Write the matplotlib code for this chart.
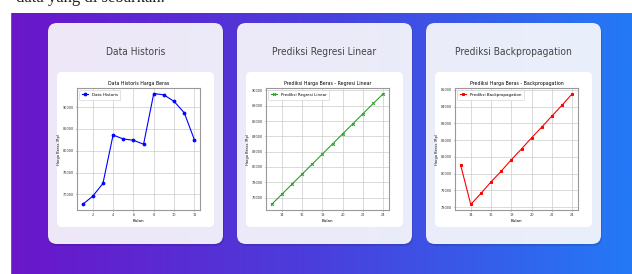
import numpy as np
import matplotlib
matplotlib.use('Agg')
import matplotlib.pyplot as plt
from matplotlib.patches import FancyBboxPatch
from matplotlib.colors import LinearSegmentedColormap
from matplotlib import font_manager

# data
bulan_hist = [1, 2, 3, 4, 5, 6, 7, 8, 9, 10, 11, 12]
harga_hist = [67700, 69600, 72500, 83600, 82700, 82400, 81500, 93100, 92800, 91300, 88700, 82500]

bulan_pred = [13, 14, 15, 16, 17, 18, 19, 20, 21, 22, 23, 24]
harga_linear = [75100, 76420, 77740, 79060, 80380, 81700, 83020, 84340, 85660, 86980, 88300, 89600]
harga_bp = [80520, 78160, 78820, 79510, 80150, 80840, 81480, 82150, 82790, 83450, 84100, 84780]

card_titles = ['Data Historis', 'Prediksi Regresi Linear', 'Prediksi Backpropagation']
chart_titles = ['Data Historis Harga Beras', 'Prediksi Harga Beras - Regresi Linear',
                'Prediksi Harga Beras - Backpropagation']
legend_labels = ['Data Historis', 'Prediksi Regresi Linear', 'Prediksi Backpropagation']

# look for a condensed face for the card titles
title_font = None
for pref in ['Roboto', 'Noto Sans', 'Open Sans', 'DejaVu Sans', 'Liberation Sans']:
    for f in font_manager.fontManager.ttflist:
        if f.name == pref and 'condensed' in str(f.stretch) and f.style == 'normal' \
                and f.weight in (400, 'normal', 'regular') and 'semi' not in str(f.stretch) \
                and 'extra' not in str(f.stretch):
            title_font = f.fname
            break
    if title_font:
        break
if title_font is None:
    for f in font_manager.fontManager.ttflist:
        if ('Condensed' in f.name or 'Narrow' in f.name) and f.style == 'normal':
            title_font = f.fname
            break

W, H = 632, 274
fig = plt.figure(figsize=(W / 100, H / 100), dpi=100)

def frac(x, y, w, h):
    # pixel box (top-left origin) -> figure fraction
    return [x / W, 1 - (y + h) / H, w / W, h / H]

# gradient background
bg = fig.add_axes([0, 0, 1, 1])
bg.set_axis_off()
cmap = LinearSegmentedColormap.from_list('g', ['#6a16c9', '#4a3fdc', '#2479f7'])
grad = np.linspace(0, 1, 256).reshape(1, -1)
bg.imshow(grad, aspect='auto', cmap=cmap, extent=[10, W, H, 13])
bg.set_xlim(0, W)
bg.set_ylim(H, 0)
bg.add_patch(plt.Rectangle((0, 0), 10, H, color='white'))
bg.text(16, 2.5, 'data yang di sebarkan.', fontsize=12, family='Liberation Serif',
        color='#222222', va='baseline')

cards_x = [48, 237, 426]
card_w, card_y, card_h = 175, 23, 221

for cx in cards_x:
    # shadow + card
    bg.add_patch(FancyBboxPatch((cx + 1, card_y + 2), card_w, card_h,
                                boxstyle='round,pad=0,rounding_size=9',
                                fc='black', ec='none', alpha=0.12))
    bg.add_patch(FancyBboxPatch((cx, card_y), card_w, card_h,
                                boxstyle='round,pad=0,rounding_size=9',
                                fc='white', ec='none', alpha=0.9))
    bg.add_patch(FancyBboxPatch((cx + 9, card_y + 49), card_w - 18, 155,
                                boxstyle='round,pad=0,rounding_size=5',
                                fc='white', ec='none'))

fp = font_manager.FontProperties(fname=title_font) if title_font else \
    font_manager.FontProperties(family='DejaVu Sans')
titles = []
for i, cx in enumerate(cards_x):
    t = bg.text(cx + card_w / 2, 52, card_titles[i], fontproperties=fp, fontsize=9,
                color='#444444', ha='center', va='center')
    titles.append(t)

# size the card titles so the longest one is about as wide as in the page
renderer = fig.canvas.get_renderer()
wpx = titles[2].get_window_extent(renderer).width
size = 9 * 116 / wpx
for t in titles:
    t.set_fontsize(size)

series = [
    (bulan_hist, harga_hist, 'blue', 'o'),
    (bulan_pred, harga_linear, 'tab:green', 'x'),
    (bulan_pred, harga_bp, 'red', 's'),
]

for i, cx in enumerate(cards_x):
    ax = fig.add_axes(frac(cx + 29, 88, 123, 122))
    xs, ys, col, mk = series[i]
    ax.plot(xs, ys, color=col, marker=mk, lw=0.8, ms=2, mew=0.7, label=legend_labels[i])
    ax.set_title(chart_titles[i], fontsize=3.4, pad=2)
    ax.set_xlabel('Bulan', fontsize=2.9, labelpad=1.5)
    ax.set_ylabel('Harga Beras (Rp)', fontsize=2.6, labelpad=1.5)
    ax.tick_params(labelsize=2.5, length=1, width=0.4, pad=1, colors='#333333')
    ax.grid(True, color='#cccccc', lw=0.5)
    for s in ax.spines.values():
        s.set_color('#999999')
        s.set_linewidth(0.8)
    ax.legend(loc='upper left', fontsize=2.9, handlelength=1.6, borderpad=0.7,
              framealpha=1, edgecolor='#cccccc').get_frame().set_linewidth(0.4)
    if i == 0:
        ax.set_xticks([2, 4, 6, 8, 10, 12])
        ax.set_yticks([70000, 75000, 80000, 85000, 90000])
    elif i == 1:
        ax.set_xticks([14, 16, 18, 20, 22, 24])
        ax.set_yticks(list(range(76000, 90001, 2000)))
    else:
        ax.set_xticks([14, 16, 18, 20, 22, 24])
        ax.set_yticks(list(range(78000, 85001, 1000)))

fig.savefig('out.png', dpi=100)
